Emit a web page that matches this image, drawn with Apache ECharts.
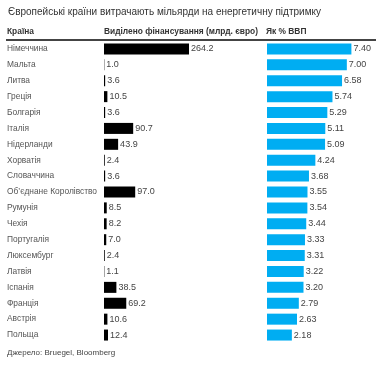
<!DOCTYPE html>
<html><head><meta charset="utf-8">
<script src="https://cdn.jsdelivr.net/npm/echarts@6/dist/echarts.min.js"></script>
<style>html,body{margin:0;padding:0;background:#fff}#c{width:382px;height:365px}</style>
</head><body><div id="c"></div>
<script>
const countries = ["Німеччина","Мальта","Литва","Греція","Болгарія","Італія","Нідерланди","Хорватія","Словаччина","Об’єднане Королівство","Румунія","Чехія","Португалія","Люксембург","Латвія","Іспанія","Франція","Австрія","Польща"];
const funding = [264.2,1.0,3.6,10.5,3.6,90.7,43.9,2.4,3.6,97.0,8.5,8.2,7.0,2.4,1.1,38.5,69.2,10.6,12.4];
const gdpShare = [7.40,7.00,6.58,5.74,5.29,5.11,5.09,4.24,3.68,3.55,3.54,3.44,3.33,3.31,3.22,3.20,2.79,2.63,2.18];
const titleText = "Європейські країни витрачають мільярди на енергетичну підтримку";
const headers = ["Країна","Виділено фінансування (млрд. євро)","Як % ВВП"];
const sourceText = "Джерело: Bruegel, Bloomberg";

const font = "Arial, 'Liberation Sans', sans-serif";
const chart = echarts.init(document.getElementById('c'));
const gridTop = 41, gridH = 302;
chart.setOption({
  animation:false,
  textStyle:{fontFamily:font},
  title:{text:titleText,left:8,top:7,padding:0,textStyle:{fontSize:10,fontWeight:'normal',color:'#333',fontFamily:font}},
  grid:[
    {left:104,top:gridTop,width:85,height:gridH},
    {left:267,top:gridTop,width:84.4,height:gridH}
  ],
  xAxis:[
    {gridIndex:0,type:'value',min:0,max:264.2,show:false},
    {gridIndex:1,type:'value',min:0,max:7.40,show:false}
  ],
  yAxis:[
    {gridIndex:0,type:'category',data:countries,inverse:true,axisLine:{show:false},axisTick:{show:false},
     axisLabel:{align:'left',margin:97,fontSize:8.4,color:'#555',fontFamily:font}},
    {gridIndex:1,type:'category',data:countries,inverse:true,show:false}
  ],
  series:[
    {type:'bar',xAxisIndex:0,yAxisIndex:0,data:funding,barWidth:11,itemStyle:{color:'#000'},
     label:{show:true,position:'right',distance:2,fontSize:9,color:'#444',fontFamily:font,formatter:p=>p.value.toFixed(1)}},
    {type:'bar',xAxisIndex:1,yAxisIndex:1,data:gdpShare,barWidth:11,itemStyle:{color:'#00adf2'},
     label:{show:true,position:'right',distance:2,fontSize:9,color:'#444',fontFamily:font,formatter:p=>p.value.toFixed(2)}}
  ],
  graphic:[
    {type:'text',left:7,top:28,style:{text:headers[0],font:'bold 8.4px '+font,fill:'#333'}},
    {type:'text',left:104,top:28,style:{text:headers[1],font:'bold 8.4px '+font,fill:'#333'}},
    {type:'text',left:266,top:28,style:{text:headers[2],font:'bold 8.4px '+font,fill:'#333'}},
    {type:'line',shape:{x1:6,y1:40,x2:376,y2:40},style:{stroke:'#444',lineWidth:2}},
    {type:'text',left:7,top:349,style:{text:sourceText,font:'8px '+font,fill:'#444'}}
  ]
});
</script></body></html>
